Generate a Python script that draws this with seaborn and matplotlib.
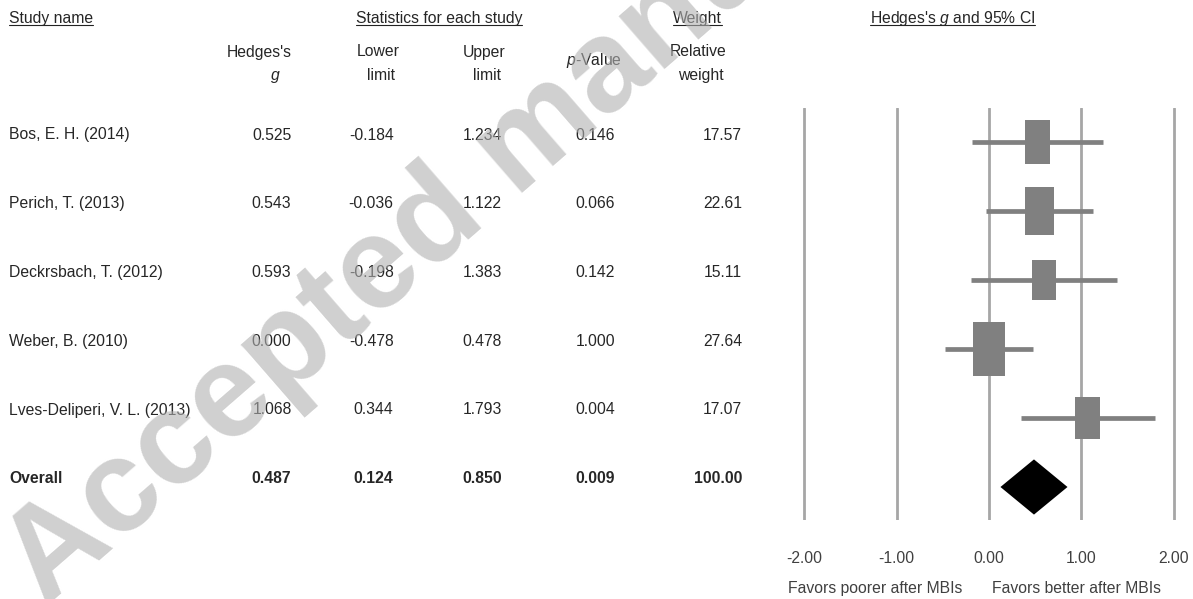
import matplotlib
matplotlib.use("Agg")
import numpy as np
import pandas as pd
import matplotlib.pyplot as plt
from matplotlib.path import Path
from matplotlib.patches import Polygon
from matplotlib.lines import Line2D
import seaborn as sns

# ---- data -------------------------------------------------------------
studies = ["Bos, E. H. (2014)", "Perich, T. (2013)", "Deckrsbach, T. (2012)",
           "Weber, B. (2010)", "Lves-Deliperi, V. L. (2013)"]
hedges_g = [0.525, 0.543, 0.593, 0.000, 1.068]
lower_limit = [-0.184, -0.036, -0.198, -0.478, 0.344]
upper_limit = [1.234, 1.122, 1.383, 0.478, 1.793]
p_values = [0.146, 0.066, 0.142, 1.000, 0.004]
rel_weight = [17.57, 22.61, 15.11, 27.64, 17.07]

overall_label = "Overall"
overall_g = 0.487
overall_lower = 0.124
overall_upper = 0.850
overall_p = 0.009
overall_weight = 100.00

x_ticks = [-2, -1, 0, 1, 2]
x_tick_labels = ["-2.00", "-1.00", "0.00", "1.00", "2.00"]
favors_left = "Favors poorer after MBIs"
favors_right = "Favors better after MBIs"

# ---- style ------------------------------------------------------------
sns.set_theme(style="white")
plt.rcParams["font.family"] = ["Liberation Sans", "DejaVu Sans"]
plt.rcParams["mathtext.fontset"] = "custom"
plt.rcParams["mathtext.rm"] = "Liberation Sans"
plt.rcParams["mathtext.it"] = "Liberation Sans:italic"

W, H = 1193, 599
FS = 11.3
fig = plt.figure(figsize=(W / 100, H / 100), dpi=100)
fig.patch.set_facecolor("white")


def fx(px):
    return px / W


def fy(py):
    return 1 - py / H


# ---- forest panel -----------------------------------------------------
unit_px = 92.35
ax_left = 804.3 - 0.3 * unit_px
ax_right = 1173.7 + 0.2 * unit_px
ax_top, ax_bot = 108, 520
ax = fig.add_axes([fx(ax_left), fy(ax_bot), (ax_right - ax_left) / W, (ax_bot - ax_top) / H])
ax.set_xlim(-2.3, 2.2)
row_px = 69.0
ax.set_ylim((ax_bot - 142) / row_px, (ax_top - 142) / row_px)
for s in ax.spines.values():
    s.set_visible(False)
ax.set_facecolor("none")

ax.set_xticks(x_ticks)
ax.set_xticklabels(x_tick_labels)
ax.set_yticks([])
ax.tick_params(axis="x", length=0, pad=22, labelsize=FS, labelcolor="#404040")
ax.grid(axis="x", color="#a6a6a6", lw=2.0)
ax.grid(axis="y", visible=False)
ax.set_axisbelow(True)

rows = np.arange(len(studies))
ax.hlines(rows, lower_limit, upper_limit, color="#808080", lw=3.4, zorder=2)

df = pd.DataFrame({"g": hedges_g, "row": rows, "weight": rel_weight})
rect = Path([(-0.296, -0.5), (0.296, -0.5), (0.296, 0.5), (-0.296, 0.5), (-0.296, -0.5)],
            [Path.MOVETO, Path.LINETO, Path.LINETO, Path.LINETO, Path.CLOSEPOLY])
sns.scatterplot(data=df, x="g", y="row", size="weight",
                sizes={w: 55.0 * w for w in rel_weight},
                marker=rect, color="#808080", edgecolor="none", linewidth=0,
                legend=False, ax=ax, zorder=3)
ax.set_xlabel("")
ax.set_ylabel("")

ov_row = len(studies)
diamond = Polygon([(overall_lower, ov_row), (overall_g, ov_row - 0.4),
                   (overall_upper, ov_row), (overall_g, ov_row + 0.4)],
                  closed=True, facecolor="black", edgecolor="none", zorder=3)
ax.add_patch(diamond)

fig.text(fx(875), fy(593), favors_left, ha="center", va="baseline", fontsize=FS, color="#404040")
fig.text(fx(1077), fy(593), favors_right, ha="center", va="baseline", fontsize=FS, color="#404040")

# ---- table ------------------------------------------------------------
underlined = []
t = fig.text(fx(9), fy(22.5), "Study name", ha="left", va="baseline", fontsize=FS)
underlined.append((t, 22.5))
t = fig.text(fx(439), fy(22.5), "Statistics for each study", ha="center", va="baseline", fontsize=FS)
underlined.append((t, 22.5))
t = fig.text(fx(697.5), fy(22.5), "Weight", ha="center", va="baseline", fontsize=FS)
underlined.append((t, 22.5))
t = fig.text(fx(952.5), fy(22.5), r"Hedges's $\mathit{g}$ and 95% CI", ha="center", va="baseline", fontsize=FS)
underlined.append((t, 22.5))

sub_headers = [
    ("Hedges's", 259.5, 56.5), (r"$\mathit{g}$", 275, 80),
    ("Lower", 378, 56.5), ("limit", 381, 80),
    ("Upper", 484.5, 56.5), ("limit", 487.5, 80),
    (r"$\mathit{p}$-Value", 593.5, 64.5),
    ("Relative", 698, 56.5), ("weight", 701, 80),
]
for txt, x, y in sub_headers:
    fig.text(fx(x), fy(y), txt, ha="center", va="baseline", fontsize=FS)

col_right = [291.5, 393.5, 502, 615, 742]
text_rows = [134, 203, 272, 340.5, 409, 477.5]

for i, name in enumerate(studies):
    yb = text_rows[i] + 5.5
    fig.text(fx(9), fy(yb), name, ha="left", va="baseline", fontsize=FS)
    vals = [f"{hedges_g[i]:.3f}", f"{lower_limit[i]:.3f}", f"{upper_limit[i]:.3f}",
            f"{p_values[i]:.3f}", f"{rel_weight[i]:.2f}"]
    for v, xr in zip(vals, col_right):
        fig.text(fx(xr), fy(yb), v, ha="right", va="baseline", fontsize=FS)

yb = text_rows[-1] + 5.5
fig.text(fx(9), fy(yb), overall_label, ha="left", va="baseline", fontsize=FS, fontweight="bold")
ov_vals = [f"{overall_g:.3f}", f"{overall_lower:.3f}", f"{overall_upper:.3f}",
           f"{overall_p:.3f}", f"{overall_weight:.2f}"]
for v, xr in zip(ov_vals, col_right):
    fig.text(fx(xr), fy(yb), v, ha="right", va="baseline", fontsize=FS, fontweight="bold")

# ---- watermark --------------------------------------------------------
fig.text(fx(45), fy(608), "Accepted manuscript", rotation=41, rotation_mode="anchor",
         ha="left", va="baseline", fontsize=94, fontweight="bold",
         color="#b0b0b0", alpha=0.6, zorder=20)

# ---- header underlines ------------------------------------------------
fig.canvas.draw()
renderer = fig.canvas.get_renderer()
for t, yb in underlined:
    bb = t.get_window_extent(renderer)
    yl = fy(yb + 2.5)
    fig.add_artist(Line2D([bb.x0 / W, bb.x1 / W], [yl, yl], transform=fig.transFigure,
                          color="#222222", lw=0.8))

fig.savefig("out.png", dpi=100, facecolor="white")
